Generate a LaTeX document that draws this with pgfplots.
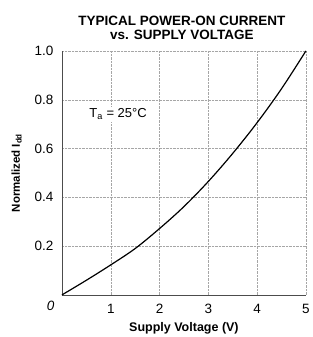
\documentclass[border=0pt]{standalone}
\usepackage{pgfplots}
\pgfplotsset{compat=1.18}
\usepackage{fontspec}
\setmainfont{Liberation Sans}
\begin{document}
\begin{tikzpicture}
\begin{axis}[
  name=ax,
  scale only axis,
  width=244pt, height=244pt,
  xmin=0, xmax=5, ymin=0, ymax=1.0,
  axis lines=left,
  axis line style={-, thin, black!70},
  xtick={0,1,2,3,4,5},
  xticklabels={,1,2,3,4,5},
  ytick={0,0.2,0.4,0.6,0.8,1.0},
  yticklabels={,0.2,0.4,0.6,0.8,1.0},
  grid=major,
  grid style={densely dotted, gray!70, line width=0.5pt},
  tick style={draw=none},
  tick label style={font=\fontsize{13.5}{14}\selectfont},
  xticklabel style={yshift=-4pt},
  yticklabel style={xshift=-3pt},
  xlabel={\textbf{Supply Voltage (V)}},
  ylabel={\textbf{Normalized I\textsubscript{dd}}},
  xlabel style={font=\fontsize{12.5}{13}\selectfont, yshift=-1pt},
  ylabel style={font=\fontsize{11.5}{13}\selectfont, yshift=6pt},
  title={\textbf{TYPICAL POWER-ON CURRENT}\\\textbf{vs. SUPPLY VOLTAGE}},
  title style={align=center, font=\fontsize{13.5}{14}\selectfont, yshift=2pt, xshift=-2pt},
  clip=false,
]
\addplot[black, line width=1.2pt, smooth, tension=0.55] coordinates {
(0,0) (0.5,0.06) (1,0.123) (1.5,0.19) (2,0.272) (2.5,0.362) (3,0.465) (3.5,0.58) (4,0.706) (4.5,0.845) (5,1.0)
};
\node[font=\fontsize{13}{14}\selectfont, fill=white, inner sep=2pt] at (axis cs:1.15,0.74) {T\textsubscript{a} = 25°C};
\node[font=\fontsize{13.5}{14}\selectfont\itshape, anchor=east] at ([xshift=-4pt,yshift=-11pt]rel axis cs:0,0) {0};
\end{axis}
\path ([shift={(-62pt,-42pt)}]ax.south west) rectangle ([shift={(6pt,51pt)}]ax.north east);
\end{tikzpicture}
\end{document}
